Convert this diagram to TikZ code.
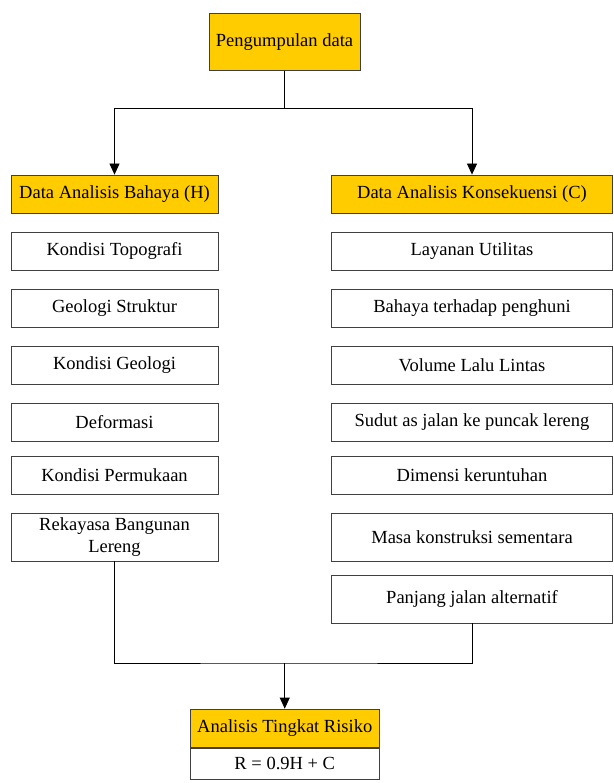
\documentclass[tikz,border=0pt]{standalone}
\usepackage{fontspec}
\setmainfont{Liberation Serif}
\usetikzlibrary{arrows.meta}
\definecolor{kuning}{RGB}{255,204,0}

\tikzset{
  box/.style={draw=black!75, line width=0.8pt, inner sep=0pt, align=center,
    font=\rmfamily\fontsize{18.5}{21.5}\selectfont, minimum height=38pt},
  kiri/.style={box, minimum width=207pt},
  kanan/.style={box, minimum width=280.5pt},
  judul/.style={fill=kuning}
}

\begin{document}
\begin{tikzpicture}[x=1pt, y=-1pt]
\useasboundingbox (0,0) rectangle (613,783);

\node(kumpul)[box, judul, minimum width=151pt, minimum height=57.5pt] at (284.5,41.75) {Pengumpulan data};

% kolom kiri
\node(bahaya)[kiri, judul] at (114.5,194) {Data Analisis Bahaya (H)};
\node(topo)[kiri] at (114.5,251) {Kondisi Topografi};
\node(struktur)[kiri] at (114.5,308.25) {Geologi Struktur};
\node(geologi)[kiri] at (114.5,365) {Kondisi Geologi};
\node(deform)[kiri] at (114.5,422.25) {Deformasi};
\node(muka)[kiri] at (114.5,475) {Kondisi Permukaan};
\node(lereng)[kiri, minimum height=48pt] at (114.5,537) {Rekayasa Bangunan\\Lereng};

% kolom kanan
\node(konsek)[kanan, judul] at (472,194) {Data Analisis Konsekuensi (C)};
\node(utilitas)[kanan] at (472,251) {Layanan Utilitas};
\node(huni)[kanan] at (472,308.25) {Bahaya terhadap penghuni};
\node(volume)[kanan] at (472,365) {Volume Lalu Lintas};
\node(sudut)[kanan] at (472,422.25) {Sudut as jalan ke puncak lereng};
\node(dimensi)[kanan] at (472,475) {Dimensi keruntuhan};
\node(masa)[kanan, minimum height=48pt] at (472,537) {Masa konstruksi sementara};
\node(alternatif)[kanan, minimum height=48pt] at (472,599) {Panjang jalan alternatif};

% hasil
\node(risiko)[box, judul, minimum width=188.5pt, minimum height=38.7pt] at (284.75,728.35) {Analisis Tingkat Risiko};
\node(rumus)[box, minimum width=188.5pt, minimum height=30.5pt, anchor=north] at (risiko.south) {R = 0.9H + C};

\coordinate (gabung) at (284.75,663);

\begin{scope}[>={Triangle[width=10pt,length=11pt]}, line width=0.8pt]
\draw (kumpul.south) -- ++(0,37.5) coordinate (cabang);
\draw[->] (cabang) -| (bahaya.north);
\draw[->] (cabang) -| (konsek.north);
\draw (lereng.south) |- (gabung) -| (alternatif.south);
\draw[->] (gabung) -- (risiko.north);
\end{scope}
\end{tikzpicture}
\end{document}
